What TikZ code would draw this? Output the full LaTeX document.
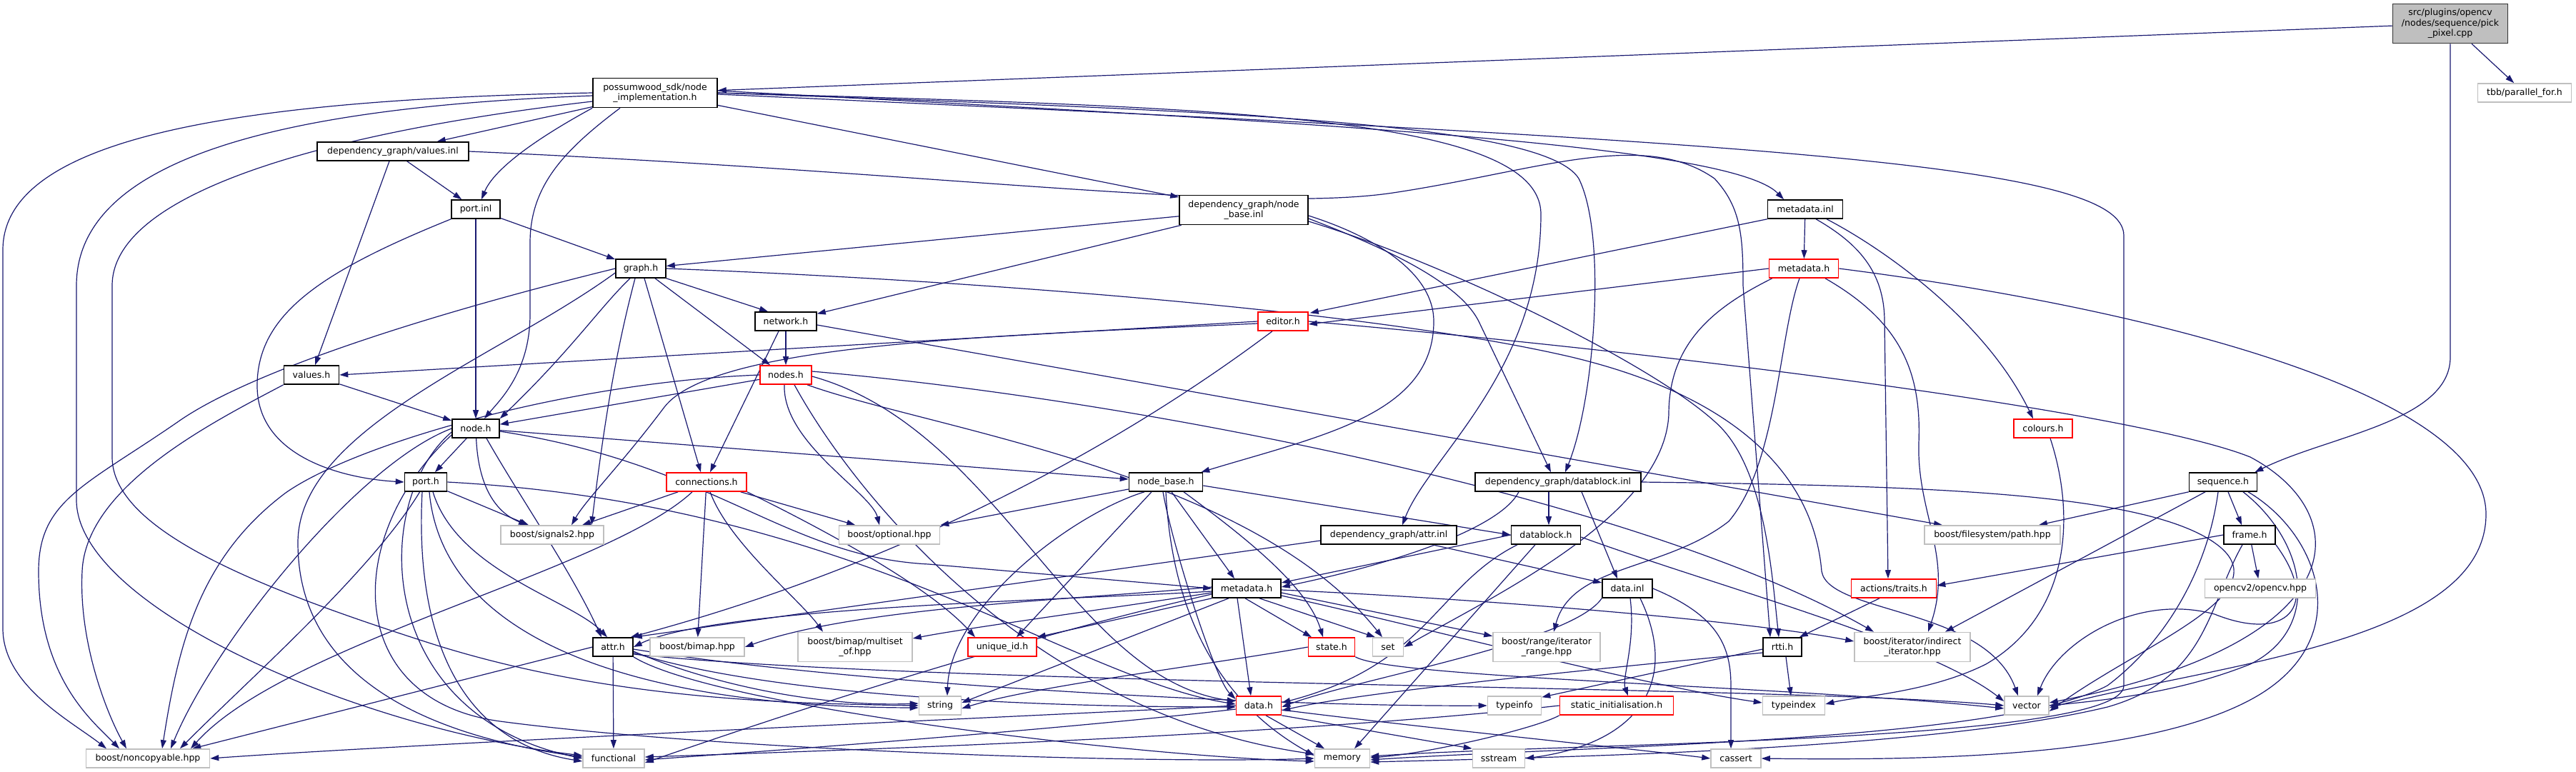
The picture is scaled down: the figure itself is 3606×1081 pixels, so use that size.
\documentclass[tikz,border=0pt]{standalone}
\usepackage{fontspec}
\setmainfont{DejaVu Sans}
\usetikzlibrary{arrows.meta}
\definecolor{edgecol}{HTML}{191970}
\definecolor{greyb}{HTML}{BFBFBF}
\pgfdeclarelayer{bg}
\pgfsetlayers{bg,main}
\tikzset{
  box/.style={draw=black, line width=1.6pt, fill=white, inner sep=0pt, align=center, font=\fontsize{12.5}{14.3}\selectfont},
  ext/.style={box, draw=greyb},
  redb/.style={box, draw=red},
  rootb/.style={box, fill=greyb, draw=black!80},
  e/.style={draw=edgecol, line width=1.2pt, -{Triangle[length=12pt,width=8pt]}},
  sz/.style 2 args={minimum width=#1pt, minimum height=#2pt}
}
\begin{document}
\begin{tikzpicture}[x=1pt,y=-1pt]
\useasboundingbox (0,0) rectangle (3606,1081);
% nodes
\node[rootb, sz={161}{55}] (pick) at (3430,33) {src/plugins/opencv\\/nodes/sequence/pick\\\_pixel.cpp};
\node[ext, sz={131}{26}] (tbb) at (3534,130) {tbb/parallel\_for.h};
\node[box, sz={174}{41}] (nimpl) at (917,130) {possumwood\_sdk/node\\\_implementation.h};
\node[box, sz={212}{26}] (valinl) at (550,212) {dependency\_graph/values.inl};
\node[box, sz={68}{26}] (portinl) at (666,293) {port.inl};
\node[box, sz={180}{41}] (nbinl) at (1741,294) {dependency\_graph/node\\\_base.inl};
\node[box, sz={105}{26}] (mdinl) at (2527,293) {metadata.inl};
\node[box, sz={70}{26}] (graph) at (897,376) {graph.h};
\node[redb, sz={97}{26}] (mdsdk) at (2525,376) {metadata.h};
\node[box, sz={86}{26}] (network) at (1100,450) {network.h};
\node[redb, sz={70}{26}] (editor) at (1796,450) {editor.h};
\node[box, sz={77}{26}] (values) at (436,525) {values.h};
\node[redb, sz={72}{26}] (nodes) at (1100,525) {nodes.h};
\node[box, sz={66}{26}] (node) at (666,600) {node.h};
\node[redb, sz={82}{26}] (colours) at (2860,600) {colours.h};
\node[box, sz={59}{26}] (porth) at (596,675) {port.h};
\node[redb, sz={112}{26}] (conn) at (989,675) {connections.h};
\node[box, sz={103}{26}] (nbh) at (1632,675) {node\_base.h};
\node[box, sz={232}{26}] (dbinl) at (2181,675) {dependency\_graph/datablock.inl};
\node[box, sz={95}{26}] (seq) at (3112,675) {sequence.h};
\node[ext, sz={144}{26}] (signals) at (773,749) {boost/signals2.hpp};
\node[ext, sz={141}{26}] (optional) at (1245,749) {boost/optional.hpp};
\node[box, sz={190}{26}] (attrinl) at (1944,749) {dependency\_graph/attr.inl};
\node[box, sz={97}{26}] (dbh) at (2164,749) {datablock.h};
\node[ext, sz={190}{26}] (path) at (2789,749) {boost/filesystem/path.hpp};
\node[box, sz={72}{26}] (frame) at (3149,749) {frame.h};
\node[box, sz={96}{26}] (mddg) at (1745,824) {metadata.h};
\node[box, sz={70}{26}] (datainl) at (2278,824) {data.inl};
\node[redb, sz={119}{26}] (traits) at (2651,824) {actions/traits.h};
\node[ext, sz={155}{26}] (opencv) at (3164,824) {opencv2/opencv.hpp};
\node[box, sz={56}{26}] (attrh) at (858,906) {attr.h};
\node[ext, sz={132}{26}] (bimap) at (976,906) {boost/bimap.hpp};
\node[ext, sz={160}{41}] (multiset) at (1197,906) {boost/bimap/multiset\\\_of.hpp};
\node[redb, sz={96}{26}] (uid) at (1403,906) {unique\_id.h};
\node[redb, sz={65}{26}] (state) at (1864,906) {state.h};
\node[ext, sz={43}{26}] (set) at (1943,906) {set};
\node[ext, sz={150}{41}] (range) at (2165,906) {boost/range/iterator\\\_range.hpp};
\node[box, sz={54}{26}] (rtti) at (2495,906) {rtti.h};
\node[ext, sz={162}{41}] (indirect) at (2677,906) {boost/iterator/indirect\\\_iterator.hpp};
\node[ext, sz={59}{26}] (string) at (1316,988) {string};
\node[redb, sz={63}{26}] (datah) at (1762,988) {data.h};
\node[ext, sz={75}{26}] (typeinfo) at (2120,988) {typeinfo};
\node[redb, sz={159}{26}] (static) at (2263,988) {static\_initialisation.h};
\node[ext, sz={87}{26}] (typeindex) at (2511,988) {typeindex};
\node[ext, sz={62}{26}] (vector) at (2837,988) {vector};
\node[ext, sz={173}{26}] (noncopy) at (207,1062) {boost/noncopyable.hpp};
\node[ext, sz={86}{26}] (functional) at (859,1062) {functional};
\node[ext, sz={77}{26}] (memory) at (1879,1062) {memory};
\node[ext, sz={73}{26}] (sstream) at (2098,1062) {sstream};
\node[ext, sz={70}{26}] (cassert) at (2430,1062) {cassert};

\begin{pgfonlayer}{bg}
% pick
\draw[e] (pick) -- (nimpl);
\draw[e] ([xshift=30pt]pick.south) -- (tbb);
\draw[e] (pick.south) -- (3430,500) .. controls (3430,590) and (3260,610) .. ([xshift=-4pt]seq.north east);
% nimpl
\draw[e] (nimpl) -- (valinl);
\draw[e] (nimpl.south west) .. controls (740,200) and (690,240) .. ([xshift=8pt]portinl.north);
\draw[e] ([xshift=-49pt]nimpl.south) .. controls (790,210) and (742,260) .. (742,340) -- (742,440) .. controls (742,520) and (700,560) .. ([xshift=12pt]node.north);
\draw[e] (nimpl) -- (nbinl);
\draw[e] ([yshift=3pt]nimpl.east) .. controls (1800,170) and (2420,200) .. ([xshift=-30pt]mdinl.north);
\draw[e] (nimpl.east) .. controls (1700,150) and (2157,160) .. (2157,300) .. controls (2157,520) and (2000,640) .. ([xshift=19pt]attrinl.north);
\draw[e] (nimpl.east) .. controls (1700,155) and (2160,170) .. (2210,250) .. controls (2250,330) and (2232,560) .. ([xshift=10pt]dbinl.north);
\draw[e] ([yshift=-2pt]nimpl.east) .. controls (2500,200) and (2973,230) .. (2973,330) -- (2973,960) .. controls (2973,1040) and (2200,1040) .. ([yshift=3pt]memory.east);
\draw[e] (nimpl.west) .. controls (300,140) and (4,200) .. (4,350) -- (4,880) .. controls (4,960) and (100,1010) .. ([xshift=-58pt]noncopy.north);
\draw[e] ([yshift=-4pt]nimpl.west) .. controls (400,150) and (107,220) .. (107,400) -- (107,700) .. controls (107,850) and (500,1020) .. ([yshift=4pt]functional.west);
\draw[e] ([yshift=-12pt]nimpl.west) .. controls (500,180) and (157,260) .. (157,400) -- (157,640) .. controls (157,740) and (350,820) .. (600,900) .. controls (850,980) and (1100,985) .. (string.west);
% valinl
\draw[e] (valinl) -- (portinl);
\draw[e] (valinl) -- (values);
\draw[e] (valinl.east) .. controls (1300,240) and (1750,300) .. (1950,270) .. controls (2150,240) and (2300,180) .. (2400,250) .. controls (2437,290) and (2440,330) .. (2440,400) -- ([xshift=-17pt]rtti.north);
% portinl
\draw[e] (portinl) -- (graph);
\draw[e] (portinl) -- (node);
\draw[e] (portinl.south west) .. controls (450,380) and (360,440) .. (360,540) .. controls (360,640) and (480,670) .. (porth.west);
% nbinl
\draw[e] (nbinl) -- (graph);
\draw[e] (nbinl) -- (network);
\draw[e] ([yshift=-8pt]nbinl.east) .. controls (1920,330) and (2007,380) .. (2007,450) .. controls (2007,580) and (1850,610) .. ([xshift=-3pt]nbh.north east);
\draw[e] ([yshift=-12pt]nbinl.east) .. controls (1920,340) and (2040,390) .. (2070,450) -- ([xshift=-10pt]dbinl.north);
\draw[e] ([yshift=-16pt]nbinl.east) .. controls (2000,360) and (2300,500) .. (2400,590) .. controls (2470,650) and (2480,800) .. ([xshift=-5pt]rtti.north);
% mdinl
\draw[e] (mdinl) -- (mdsdk);
\draw[e] (mdinl.south west) -- ([xshift=2pt,yshift=-2pt]editor.north east);
\draw[e] ([xshift=15pt]mdinl.south) .. controls (2600,340) and (2638,380) .. (2638,450) -- ([xshift=-8pt]traits.north);
\draw[e] ([xshift=30pt]mdinl.south) .. controls (2640,350) and (2780,450) .. ([xshift=-14pt]colours.north);
% mdsdk
\draw[e] (mdsdk.west) -- ([yshift=-4pt]editor.east);
\draw[e] ([xshift=5pt]mdsdk.south west) .. controls (2400,430) and (2336,480) .. (2336,580) .. controls (2330,720) and (2100,830) .. (set.east);
\draw[e] ([xshift=-6pt]mdsdk.south) .. controls (2490,470) and (2488,650) .. (2420,730) .. controls (2330,800) and (2200,790) .. ([xshift=10pt]range.north);
\draw[e] ([xshift=30pt]mdsdk.south) .. controls (2660,450) and (2690,520) .. (2686,620) .. controls (2683,720) and (2735,780) .. ([xshift=22pt]indirect.north);
\draw[e] (mdsdk.east) .. controls (3000,430) and (3480,550) .. (3480,720) .. controls (3480,900) and (3100,930) .. ([yshift=-3pt]vector.east);
% graph
\draw[e] (graph.west) .. controls (600,440) and (350,520) .. (250,590) .. controls (120,680) and (54,700) .. (54,800) .. controls (54,950) and (130,1010) .. ([xshift=-40pt]noncopy.north);
\draw[e] ([yshift=-6pt]graph.west) .. controls (700,500) and (417,600) .. (417,760) .. controls (417,950) and (600,1030) .. ([yshift=2pt]functional.west);
\draw[e] ([xshift=-15pt]graph.south) .. controls (840,430) and (800,490) .. (node.north east);
\draw[e] ([xshift=-8pt]graph.south) .. controls (860,500) and (845,600) .. ([xshift=55pt]signals.north);
\draw[e] ([xshift=5pt]graph.south) -- ([xshift=-8pt]conn.north);
\draw[e] ([xshift=20pt]graph.south) -- ([xshift=-22pt]nodes.north);
\draw[e] (graph.south east) -- ([xshift=-25pt]network.north);
\draw[e] (graph.east) .. controls (1300,390) and (1900,430) .. (2200,500) .. controls (2450,560) and (2540,680) .. (2550,800) .. controls (2560,860) and (2780,850) .. ([xshift=-12pt]vector.north);
% network
\draw[e] (network) -- (nodes);
\draw[e] ([xshift=-10pt]network.south) -- ([xshift=5pt]conn.north);
\draw[e] ([yshift=-5pt]network.east) -- ([xshift=-70pt]path.north);
% values
\draw[e] (values) -- (node);
\draw[e] (values.south west) .. controls (300,590) and (120,680) .. (115,800) .. controls (110,900) and (150,1000) .. ([xshift=-30pt]noncopy.north);
% nodes
\draw[e] (nodes) -- (node);
\draw[e] (nodes.west) .. controls (800,535) and (500,620) .. (400,690) .. controls (280,780) and (250,900) .. ([xshift=20pt]noncopy.north);
\draw[e] ([xshift=-2pt]nodes.south) .. controls (1095,620) and (1220,690) .. ([xshift=-14pt]optional.north);
\draw[e] ([xshift=12pt]nodes.south) .. controls (1200,700) and (1450,1000) .. ([yshift=6pt]memory.west);
\draw[e] ([xshift=30pt]nodes.south) .. controls (1300,600) and (1750,660) .. ([xshift=-8pt]set.north);
\draw[e] ([yshift=5pt]nodes.east) .. controls (1600,560) and (2300,700) .. ([xshift=-54pt]indirect.north);
\draw[e] ([yshift=-2pt]nodes.east) .. controls (1400,600) and (1500,950) .. ([yshift=6pt]datah.west);
% node
\draw[e] (node) -- (porth);
\draw[e] (node.west) .. controls (500,650) and (300,900) .. ([xshift=32pt]noncopy.north);
\draw[e] ([yshift=-5pt]node.west) .. controls (520,700) and (520,1000) .. (functional.west);
\draw[e] ([yshift=-9pt]node.west) .. controls (480,750) and (480,980) .. (700,1010) .. controls (1000,1050) and (1600,1070) .. (memory.west);
\draw[e] (node) .. controls (670,690) and (700,720) .. ([xshift=-35pt]signals.north);
\draw[e] ([xshift=15pt]node.south) .. controls (730,700) and (800,800) .. ([xshift=-16pt]attrh.north);
\draw[e] (node) -- (nbh);
\draw[e] ([yshift=-4pt]node.east) .. controls (1000,650) and (1100,780) .. (1300,790) -- (mddg.west);
% porth
\draw[e] (porth) -- (signals);
\draw[e] (porth) .. controls (520,800) and (350,950) .. ([xshift=45pt]noncopy.north);
\draw[e] ([xshift=10pt]porth.south) .. controls (640,800) and (800,840) .. ([xshift=-8pt]attrh.north);
\draw[e] ([xshift=5pt]porth.south) .. controls (620,900) and (900,990) .. ([yshift=-3pt]string.west);
\draw[e] ([xshift=-5pt]porth.south) .. controls (580,900) and (650,1040) .. ([yshift=-4pt]functional.west);
\draw[e] (porth.east) .. controls (1200,706) and (1500,950) .. ([yshift=2pt]datah.west);
% conn
\draw[e] (conn) -- ([xshift=42pt]signals.north);
\draw[e] ([xshift=-20pt]conn.south) .. controls (850,800) and (400,900) .. ([xshift=60pt]noncopy.north);
\draw[e] (conn) -- (bimap);
\draw[e] (conn) .. controls (1020,760) and (1120,840) .. ([xshift=-45pt]multiset.north);
\draw[e] (conn) -- (optional);
\draw[e] (conn.south east) .. controls (1150,740) and (1300,820) .. ([xshift=-38pt]uid.north);
% editor
\draw[e] (editor.west) -- (values.east);
\draw[e] ([yshift=-3pt]editor.west) .. controls (1400,470) and (1000,480) .. (930,570) .. controls (870,650) and (820,700) .. ([xshift=27pt]signals.north);
\draw[e] ([xshift=-15pt]editor.south) .. controls (1600,600) and (1300,780) .. ([xshift=-4pt]attrh.north east);
\draw[e] (editor.east) .. controls (2400,500) and (3000,580) .. (3150,640) .. controls (3300,720) and (3300,900) .. ([yshift=4pt]vector.east);
% colours
\draw[e] ([xshift=10pt]colours.south) .. controls (2905,720) and (2900,860) .. (2780,930) .. controls (2700,970) and (2600,975) .. ([yshift=2pt]typeindex.east);
% seq
\draw[e] ([xshift=7pt]seq.south) -- ([xshift=-11pt]frame.north);
\draw[e] (seq.south west) -- ([xshift=65pt]path.north);
\draw[e] ([xshift=-25pt]seq.south) -- ([xshift=46pt]indirect.north);
\draw[e] ([xshift=-7pt]seq.south) .. controls (3090,800) and (3030,900) .. (2950,960) .. controls (2800,1040) and (2200,1045) .. ([yshift=-2pt]memory.east);
\draw[e] ([xshift=35pt]seq.south) .. controls (3250,750) and (3300,900) .. (3150,980) .. controls (3000,1060) and (2700,1065) .. (cassert.east);
\draw[e] ([xshift=28pt]seq.south) .. controls (3230,760) and (3250,880) .. (3150,930) .. controls (3050,970) and (2950,980) .. (vector.east);
% frame
\draw[e] (frame) -- (opencv);
\draw[e] (frame.west) -- ([yshift=4pt]traits.east);
\draw[e] ([xshift=-10pt]frame.south) .. controls (3090,850) and (3090,950) .. (2950,990) .. controls (2700,1050) and (2200,1060) .. ([yshift=-5pt]memory.east);
\draw[e] (frame.south east) .. controls (3250,850) and (3200,900) .. (3100,860) .. controls (2990,830) and (2880,900) .. ([xshift=15pt]vector.north);
% nbh
\draw[e] (nbh) -- (optional);
\draw[e] ([xshift=-30pt]nbh.south) .. controls (1500,720) and (1330,850) .. ([xshift=10pt]string.north);
\draw[e] ([xshift=-20pt]nbh.south) -- ([xshift=20pt]uid.north);
\draw[e] ([xshift=-4pt]nbh.south) .. controls (1640,760) and (1700,950) .. ([yshift=9pt]datah.west);
\draw[e] ([xshift=8pt]nbh.south) -- ([xshift=-17pt]mddg.north);
\draw[e] ([xshift=25pt]nbh.south) .. controls (1740,750) and (1830,820) .. ([xshift=-12pt]state.north);
\draw[e] (nbh.south) .. controls (1640,850) and (1700,980) .. ([yshift=4pt]memory.west);
\draw[e] ([yshift=-5pt]nbh.east) -- (dbh.west);
% dbinl
\draw[e] ([xshift=-55pt]dbinl.south) .. controls (2100,740) and (1950,790) .. ([yshift=2pt]mddg.east);
\draw[e] ([xshift=-13pt]dbinl.south) -- ([xshift=4pt]dbh.north);
\draw[e] ([xshift=33pt]dbinl.south) -- ([xshift=-14pt]datainl.north);
\draw[e] (dbinl.east) .. controls (2700,680) and (3000,690) .. (3100,760) .. controls (3200,830) and (3000,900) .. ([yshift=-8pt]vector.east);
% attrinl
\draw[e] (attrinl) -- (datainl);
\draw[e] ([yshift=-8pt]attrinl.west) -- (attrh.north east);
% dbh
\draw[e] (dbh.west) -- ([yshift=8pt]mddg.east);
\draw[e] ([xshift=-40pt]dbh.south) .. controls (2010,820) and (2000,930) .. ([yshift=4pt]datah.east);
\draw[e] ([xshift=-15pt]dbh.south) -- ([xshift=17pt]memory.north);
\draw[e] ([yshift=-3pt]dbh.east) .. controls (2400,820) and (2700,900) .. ([yshift=6pt]vector.west);
% mddg
\draw[e] ([yshift=-4pt]mddg.west) .. controls (1500,840) and (1000,850) .. (attrh.east);
\draw[e] ([yshift=2pt]mddg.west) .. controls (1500,840) and (1200,850) .. (bimap.east);
\draw[e] ([yshift=-8pt]mddg.west) .. controls (1400,900) and (1100,1000) .. ([yshift=-6pt]functional.east);
\draw[e] ([yshift=-6pt]mddg.west) .. controls (1500,860) and (1350,880) .. ([yshift=12pt]multiset.east);
\draw[e] (mddg.south west) -- (uid.north east);
\draw[e] ([xshift=-25pt]mddg.south) -- ([yshift=4pt]string.east);
\draw[e] ([xshift=-13pt]mddg.south) -- ([xshift=-11pt]datah.north);
\draw[e] ([xshift=-2pt]mddg.south) -- ([xshift=-28pt]state.north);
\draw[e] ([xshift=18pt]mddg.south) -- ([xshift=-18pt]set.north);
\draw[e] ([yshift=-6pt]mddg.east) -- ([yshift=-6pt]range.north west);
\draw[e] ([yshift=-2pt]mddg.east) .. controls (2100,840) and (2450,870) .. ([yshift=8pt]indirect.west);
\draw[e] ([yshift=-10pt]mddg.east) .. controls (2000,880) and (2300,960) .. ([yshift=4pt]typeindex.west);
% attrh
\draw[e] (attrh.west) -- ([xshift=-25pt]noncopy.north east);
\draw[e] (attrh) -- (functional);
\draw[e] ([yshift=-6pt]attrh.east) .. controls (1000,960) and (1150,990) .. ([yshift=3pt]string.west);
\draw[e] (attrh.south east) .. controls (1000,990) and (1600,1060) .. ([yshift=-4pt]memory.west);
\draw[e] ([yshift=-3pt]attrh.east) .. controls (1200,960) and (1800,990) .. (typeinfo.west);
\draw[e] ([yshift=-8pt]attrh.east) .. controls (1100,980) and (1500,990) .. ([yshift=-2pt]datah.west);
\draw[e] ([yshift=-10pt]attrh.east) .. controls (1300,960) and (2500,960) .. (vector.west);
% state
\draw[e] (state.west) .. controls (1700,930) and (1450,960) .. ([yshift=-4pt]string.east);
\draw[e] (state.south east) .. controls (1950,950) and (2500,960) .. ([yshift=-4pt]vector.west);
% datainl
\draw[e] (datainl.south west) .. controls (2200,900) and (1900,950) .. ([yshift=-2pt]datah.east);
\draw[e] ([xshift=4pt]datainl.south) .. controls (2290,900) and (2270,950) .. ([xshift=16pt]static.north);
\draw[e] ([xshift=18pt]datainl.south) .. controls (2350,950) and (2300,1040) .. (sstream.east);
\draw[e] (datainl.east) .. controls (2400,860) and (2423,900) .. (2423,960) -- ([xshift=-7pt]cassert.north);
% rtti
\draw[e] ([xshift=5pt]rtti.south) -- ([xshift=-4pt]typeindex.north);
\draw[e] ([yshift=-3pt]rtti.west) -- ([yshift=-2pt]typeinfo.north east);
\draw[e] ([yshift=-8pt]rtti.west) .. controls (2200,940) and (1900,970) .. ([yshift=-7pt]datah.east);
% traits
\draw[e] ([xshift=-20pt]traits.south) -- ([xshift=-4pt]rtti.north east);
% datah
\draw[e] (datah.west) .. controls (1500,1000) and (600,1040) .. (noncopy.east);
\draw[e] ([yshift=-5pt]datah.west) .. controls (1500,1020) and (1100,1050) .. ([yshift=-2pt]functional.east);
\draw[e] ([xshift=10pt]datah.south) -- ([xshift=-25pt]memory.north);
\draw[e] (datah.south east) -- (sstream.north west);
\draw[e] ([yshift=-6pt]datah.east) .. controls (2000,1020) and (2300,1050) .. (cassert.west);
% static
\draw[e] (static.south west) .. controls (2150,1020) and (2000,1055) .. ([yshift=1pt]memory.east);
\draw[e] (static.west) .. controls (1800,1030) and (1200,1050) .. ([yshift=2pt]functional.east);
\end{pgfonlayer}
\end{tikzpicture}
\end{document}
